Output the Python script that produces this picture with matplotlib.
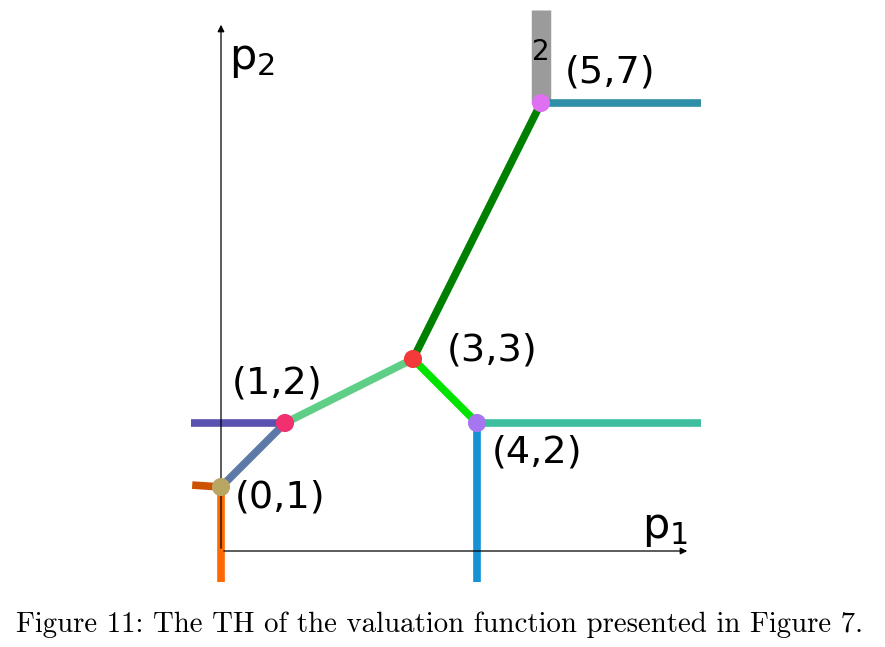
import matplotlib.pyplot as plt

# vertices of the tropical hypersurface (p1, p2)
vert_x = [0, 1, 3, 4, 5]
vert_y = [1, 2, 3, 2, 7]
vert_labels = ["(0,1)", "(1,2)", "(3,3)", "(4,2)", "(5,7)"]
vert_colors = ["#b9a663", "#f2306f", "#f23a3a", "#a675f0", "#e070f2"]

# bounded edges (start vertex index, end vertex index)
edges = [(0, 1), (1, 2), (2, 4), (2, 3)]
edge_colors = ["#5b78a6", "#5fce87", "#008000", "#00e400"]

# unbounded rays: vertex index and far end point
ray_from = [0, 0, 1, 3, 3, 4]
ray_end_x = [0, -0.45, -0.47, 7.5, 4, 7.5]
ray_end_y = [-0.48, 1.03, 2, 2, -0.48, 7]
ray_colors = ["#ff6a00", "#cc5100", "#5a52b0", "#3dbf9f", "#1591d6", "#2e8fa6"]

# the weighted ray (weight 2)
heavy_end_y = 8.45

PX = 64.0
X0, Y0 = 221, 551

fig = plt.figure(figsize=(8.85, 6.47), dpi=100)
ax = fig.add_axes([0, 0, 1, 1])
ax.set_xlim(-X0 / PX, (885 - X0) / PX)
ax.set_ylim((Y0 - 647) / PX, Y0 / PX)
ax.axis("off")

# coordinate axes
ax.annotate("", xy=(0, (Y0 - 22) / PX), xytext=(0, 0),
            arrowprops=dict(arrowstyle="-|>", color="black", lw=0.9, mutation_scale=10))
ax.annotate("", xy=((690 - X0) / PX, 0), xytext=(0, 0),
            arrowprops=dict(arrowstyle="-|>", color="black", lw=0.9, mutation_scale=10))
ax.text(0.13, 7.68, r"$\mathregular{p_2}$", fontsize=31, va="center", ha="left")
ax.text(6.58, 0.36, r"$\mathregular{p_1}$", fontsize=31, va="center", ha="left")

# heavy ray
ax.plot([vert_x[4], vert_x[4]], [vert_y[4], heavy_end_y], color="#9b9b9b",
        lw=14, solid_capstyle="butt", zorder=2)
ax.text(5, 7.8, "2", fontsize=20, ha="center", va="center", zorder=3)

for (a, b), c in zip(edges, edge_colors):
    ax.plot([vert_x[a], vert_x[b]], [vert_y[a], vert_y[b]], color=c, lw=5.5,
            solid_capstyle="butt", zorder=2)

for i, ex, ey, c in zip(ray_from, ray_end_x, ray_end_y, ray_colors):
    ax.plot([vert_x[i], ex], [vert_y[i], ey], color=c, lw=5.5,
            solid_capstyle="butt", zorder=2)

ax.scatter(vert_x, vert_y, s=170, c=vert_colors, zorder=4, linewidths=0)

label_dx = [0.92, -0.13, 1.23, 0.94, 1.08]
label_dy = [-0.16, 0.62, 0.14, -0.46, 0.48]
for x, y, t, dx, dy in zip(vert_x, vert_y, vert_labels, label_dx, label_dy):
    ax.text(x + dx, y + dy, t, fontsize=27.5, ha="center", va="center")

fig.text(0.497, 0.034, "Figure 11: The TH of the valuation function presented in Figure 7.",
         family="cmr10", fontsize=20.8, ha="center", va="center")

fig.savefig("out.png", dpi=100)
